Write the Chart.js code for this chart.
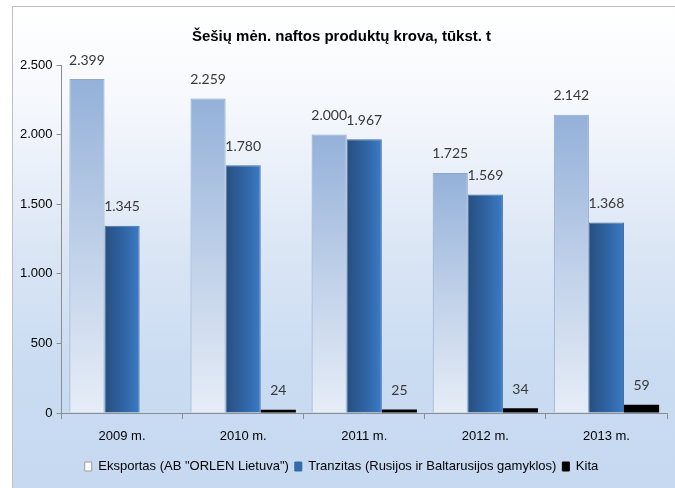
<!DOCTYPE html>
<html>
<head>
<meta charset="utf-8">
<title>Šešių mėn. naftos produktų krova</title>
<script src="https://cdn.jsdelivr.net/npm/chart.js"></script>
<style>
    body { margin: 0; background: #fff; width: 675px; height: 488px; overflow: hidden; }
    .frame {
        position: absolute; left: 12px; top: 6px; width: 663px; height: 482px;
        border-left: 1px solid #bfbfbf; border-top: 1px solid #bfbfbf;
        background: linear-gradient(to bottom, #ffffff 0%, #f4f7fc 22%, #dbe6f5 50%, #cadcf2 75%, #c6d9f1 100%);
    }
    canvas { display: block; }
</style>
</head>
<body>
<div class="frame"><canvas id="krova" width="662" height="481"></canvas></div>
<script>
const years = ['2009 m.', '2010 m.', '2011 m.', '2012 m.', '2013 m.'];
const eksportas = [2399, 2259, 2000, 1725, 2142];
const tranzitas = [1345, 1780, 1967, 1569, 1368];
const kita = [null, 24, 25, 34, 59];
const yTicks = [0, 500, 1000, 1500, 2000, 2500];

const SANS = '"Liberation Sans", Arial, sans-serif';
const CAT_PCT = 0.87;

// 2.399 style numbers
const fmt = v => String(v).replace(/\B(?=(\d{3})+(?!\d))/g, '.');

// bar geometry helper for per-bar gradients
function barBox(ctx, slot) {
    const chart = ctx.chart, xs = chart.scales.x, ys = chart.scales.y;
    if (!xs || !ys || ctx.dataIndex === undefined) return null;
    const catW = (xs.right - xs.left) / years.length;
    const w = catW * CAT_PCT / 3;
    const cx = xs.getPixelForValue(ctx.dataIndex);
    const left = cx - 1.5 * w + slot * w;
    const v = ctx.raw || 0;
    return { left, right: left + w, top: ys.getPixelForValue(v), bottom: ys.getPixelForValue(0) };
}

function eksportasFill(ctx) {
    const b = barBox(ctx, 0);
    if (!b || !isFinite(b.top)) return '#b9cce6';
    const g = ctx.chart.ctx.createLinearGradient(0, b.top, 0, b.bottom);
    g.addColorStop(0, '#94b1d9');
    g.addColorStop(0.55, '#c3d3ea');
    g.addColorStop(1, '#e6edf7');
    return g;
}

function tranzitasFill(ctx) {
    const b = barBox(ctx, 1);
    if (!b) return '#2f66a6';
    const g = ctx.chart.ctx.createLinearGradient(b.left, 0, b.right, 0);
    g.addColorStop(0, '#274f80');
    g.addColorStop(0.5, '#2f62a0');
    g.addColorStop(1, '#3b7bc6');
    return g;
}

const valueLabels = {
    id: 'valueLabels',
    afterDatasetsDraw(chart) {
        const c = chart.ctx;
        c.save();
        c.font = '14px Lato, sans-serif';
        c.fillStyle = '#383838';
        c.textAlign = 'center';
        c.textBaseline = 'middle';
        chart.data.datasets.forEach((ds, i) => {
            chart.getDatasetMeta(i).data.forEach((bar, j) => {
                const v = ds.data[j];
                if (v === null || v === undefined) return;
                c.fillText(fmt(v), bar.x, bar.y - 19);
            });
        });
        c.restore();
    }
};

new Chart(document.getElementById('krova'), {
    type: 'bar',
    data: {
        labels: years,
        datasets: [
            { label: 'Eksportas (AB "ORLEN Lietuva")', data: eksportas, backgroundColor: eksportasFill, borderColor: '#8ea6c8', borderWidth: 1 },
            { label: 'Tranzitas (Rusijos ir Baltarusijos gamyklos)', data: tranzitas, backgroundColor: tranzitasFill, borderColor: '#4a6f9c', borderWidth: 1 },
            { label: 'Kita', data: kita, backgroundColor: '#000000', borderWidth: 0 }
        ]
    },
    options: {
        responsive: false,
        animation: false,
        layout: { padding: { left: 3, right: 8, top: 4, bottom: 5 } },
        datasets: { bar: { categoryPercentage: CAT_PCT, barPercentage: 1 } },
        plugins: {
            title: {
                display: true,
                text: 'Šešių mėn. naftos produktų krova, tūkst. t',
                color: '#000',
                font: { family: SANS, size: 15, weight: 'bold' },
                padding: { top: 17, bottom: 19 }
            },
            legend: {
                position: 'bottom',
                labels: {
                    color: '#000',
                    font: { family: SANS, size: 13 },
                    boxWidth: 7,
                    boxHeight: 9,
                    padding: 6,
                    generateLabels: () => [
                        { text: 'Eksportas (AB "ORLEN Lietuva")', fillStyle: '#ffffff', strokeStyle: '#9a9a9a', lineWidth: 1, datasetIndex: 0 },
                        { text: 'Tranzitas (Rusijos ir Baltarusijos gamyklos)', fillStyle: '#3569aa', strokeStyle: '#3569aa', lineWidth: 1, datasetIndex: 1 },
                        { text: 'Kita', fillStyle: '#000000', strokeStyle: '#000000', lineWidth: 1, datasetIndex: 2 }
                    ]
                }
            },
            tooltip: { enabled: false }
        },
        scales: {
            x: {
                grid: { display: true, drawOnChartArea: false, offset: true, tickLength: 6, color: '#8c8c8c' },
                border: { color: '#8c8c8c' },
                ticks: { color: '#000', font: { family: SANS, size: 13, lineHeight: 1 }, padding: 11 }
            },
            y: {
                min: 0,
                max: 2500,
                afterBuildTicks: axis => { axis.ticks = yTicks.map(v => ({ value: v })); },
                grid: { display: true, drawOnChartArea: false, tickLength: 5, color: '#8c8c8c' },
                border: { color: '#8c8c8c' },
                ticks: { color: '#000', font: { family: SANS, size: 13 }, padding: 4, callback: v => fmt(v) }
            }
        }
    },
    plugins: [valueLabels]
});
</script>
</body>
</html>
